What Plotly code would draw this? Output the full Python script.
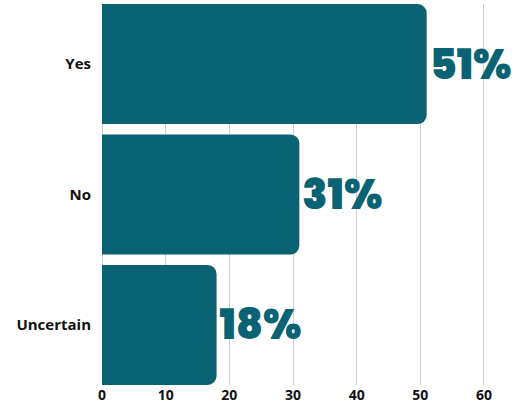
import plotly.graph_objects as go

categories = ["Yes", "No", "Uncertain"]
values = [51, 31, 18]
labels = ["51%", "31%", "18%"]
x_ticks = [0, 10, 20, 30, 40, 50, 60]

color = "#0a6372"

fig = go.Figure(go.Bar(
    y=categories,
    x=values,
    orientation="h",
    width=0.92,
    marker=dict(color=color, cornerradius=9, line=dict(width=0)),
    text=labels,
    textposition="outside",
    cliponaxis=False,
    textfont=dict(family="Poppins, Montserrat, Lato, sans-serif", size=41, color=color, weight=900),
))

fig.update_layout(
    width=515, height=412,
    margin=dict(l=102, r=10, t=4, b=27),
    plot_bgcolor="white", paper_bgcolor="white",
    showlegend=False,
    xaxis=dict(
        range=[0, 63.3], tickvals=x_ticks, showgrid=True, gridcolor="#cfcfcf", gridwidth=1,
        zeroline=True, zerolinecolor="#cfcfcf", zerolinewidth=1,
        tickfont=dict(family="Open Sans, sans-serif", size=14, color="#111", weight="bold"),
        fixedrange=True,
    ),
    yaxis=dict(
        categoryorder="array", categoryarray=categories, autorange=False,
        range=[2.46, -0.46], showgrid=False,
        tickfont=dict(family="Open Sans, sans-serif", size=15, color="#111", weight="bold"),
        ticklabelstandoff=10,
    ),
)

fig.write_html("out.html")
